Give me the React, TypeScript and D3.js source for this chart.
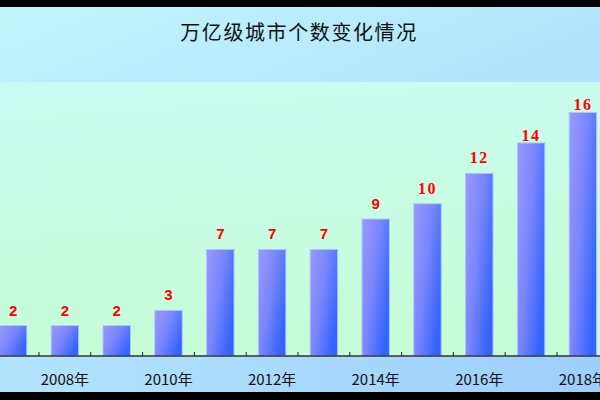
import React, { useEffect, useRef } from 'react';
import * as d3 from 'd3';

const TITLE = '万亿级城市个数变化情况';
const YEARS = ['2007', '2008', '2009', '2010', '2011', '2012', '2013', '2014', '2015', '2016', '2017', '2018'];
const CITY_COUNTS = [2, 2, 2, 3, 7, 7, 7, 9, 10, 12, 14, 16];
const TICK_YEARS = ['2008', '2010', '2012', '2014', '2016', '2018'];
const Y_MAX = 18;

const WIDTH = 600;
const HEIGHT = 400;
const PLOT_TOP = 82;
const AXIS_Y = 356;
const STEP = 51.8;
const FIRST_TICK = 39;

const App = () => {
    const ref = useRef<HTMLDivElement>(null);

    useEffect(() => {
        document.body.style.margin = '0';
        plotChart();
    }, []);

    const plotChart = () => {
        d3.select(ref.current).selectAll('*').remove();

        const svg = d3.select(ref.current)
            .append('svg')
            .attr('width', WIDTH)
            .attr('height', HEIGHT)
            .style('display', 'block');

        const defs = svg.append('defs');

        const addGradient = (id: string, x2: number, y2: number, stops: string[]) => {
            const g = defs.append('linearGradient')
                .attr('id', id)
                .attr('x1', 0).attr('y1', 0)
                .attr('x2', x2).attr('y2', y2);
            stops.forEach((c, i) => {
                g.append('stop')
                    .attr('offset', i / (stops.length - 1))
                    .attr('stop-color', c);
            });
        };

        addGradient('titleBg', 1, 0.3, ['#c2f6fc', '#b2e4fc']);
        addGradient('plotBg', 0.15, 1, ['#cafcf2', '#c6fcd6']);
        addGradient('axisBg', 1, 0, ['#b2e4fc', '#9ecefc']);
        addGradient('barFill', 1, 0.6, ['#9c98fc', '#7a86fc', '#3464fc']);

        // background bands
        svg.append('rect').attr('x', 0).attr('y', 0).attr('width', WIDTH).attr('height', HEIGHT).attr('fill', '#000');
        svg.append('rect').attr('x', 0).attr('y', 7).attr('width', WIDTH).attr('height', PLOT_TOP - 7).attr('fill', 'url(#titleBg)');
        svg.append('rect').attr('x', 0).attr('y', PLOT_TOP).attr('width', WIDTH).attr('height', AXIS_Y - PLOT_TOP).attr('fill', 'url(#plotBg)');
        svg.append('rect').attr('x', 0).attr('y', AXIS_Y).attr('width', WIDTH).attr('height', 392 - AXIS_Y).attr('fill', 'url(#axisBg)');
        svg.append('line')
            .attr('x1', 0).attr('x2', WIDTH)
            .attr('y1', PLOT_TOP + 0.5).attr('y2', PLOT_TOP + 0.5)
            .attr('stroke', '#d2f2fc').attr('stroke-width', 1);

        const xScale = d3.scaleBand<string>()
            .domain(YEARS)
            .range([FIRST_TICK - STEP, FIRST_TICK + STEP * (YEARS.length - 1)])
            .paddingInner(0.47)
            .paddingOuter(0.235);

        const yScale = d3.scaleLinear()
            .domain([0, Y_MAX])
            .range([AXIS_Y, PLOT_TOP]);

        // bars
        svg.selectAll('rect.bar')
            .data(CITY_COUNTS)
            .enter().append('rect')
            .attr('class', 'bar')
            .attr('x', (d, i) => xScale(YEARS[i])!)
            .attr('y', d => yScale(d))
            .attr('width', xScale.bandwidth())
            .attr('height', d => AXIS_Y - yScale(d))
            .attr('fill', 'url(#barFill)')
            .attr('stroke', '#aac8fc')
            .attr('stroke-width', 1);

        // value labels (the two tallest sit almost on the bar in the original)
        svg.selectAll('text.value')
            .data(CITY_COUNTS)
            .enter().append('text')
            .attr('class', 'value')
            .attr('x', (d, i) => xScale(YEARS[i])! + xScale.bandwidth() / 2)
            .attr('y', d => yScale(d) - (d >= 14 ? 2 : 10))
            .attr('text-anchor', 'middle')
            .attr('fill', '#ff0000')
            .style('font-weight', 'bold')
            .style('font-family', d => String(d).length > 1 ? '"Liberation Serif", serif' : '"Liberation Sans", sans-serif')
            .style('font-size', d => String(d).length > 1 ? '16px' : '15px')
            .style('letter-spacing', d => String(d).length > 1 ? '1.5px' : '0px')
            .text(d => d);

        // x axis line and inward ticks on category boundaries
        svg.append('line')
            .attr('x1', 0).attr('x2', WIDTH)
            .attr('y1', AXIS_Y).attr('y2', AXIS_Y)
            .attr('stroke', '#333').attr('stroke-width', 1.5);

        svg.selectAll('line.tick')
            .data(YEARS.slice(1))
            .enter().append('line')
            .attr('class', 'tick')
            .attr('x1', d => xScale(d)! - xScale.step() * xScale.paddingInner() / 2)
            .attr('x2', d => xScale(d)! - xScale.step() * xScale.paddingInner() / 2)
            .attr('y1', AXIS_Y - 4).attr('y2', AXIS_Y)
            .attr('stroke', '#222').attr('stroke-width', 1);

        svg.selectAll('text.year')
            .data(TICK_YEARS)
            .enter().append('text')
            .attr('class', 'year')
            .attr('x', d => xScale(d)! + xScale.bandwidth() / 2)
            .attr('y', 385)
            .attr('text-anchor', 'middle')
            .attr('fill', '#111')
            .style('font-family', '"Noto Sans CJK SC", sans-serif')
            .style('font-size', '15px')
            .text(d => d + '年');

        // title
        svg.append('text')
            .attr('x', 299)
            .attr('y', 40)
            .attr('text-anchor', 'middle')
            .attr('fill', '#111')
            .style('font-family', '"Noto Sans CJK SC", sans-serif')
            .style('font-size', '20px')
            .style('letter-spacing', '1.6px')
            .text(TITLE);
    }

    return (
        <div className="city-chart-div" ref={ref}></div>
    )
}

export default App;
